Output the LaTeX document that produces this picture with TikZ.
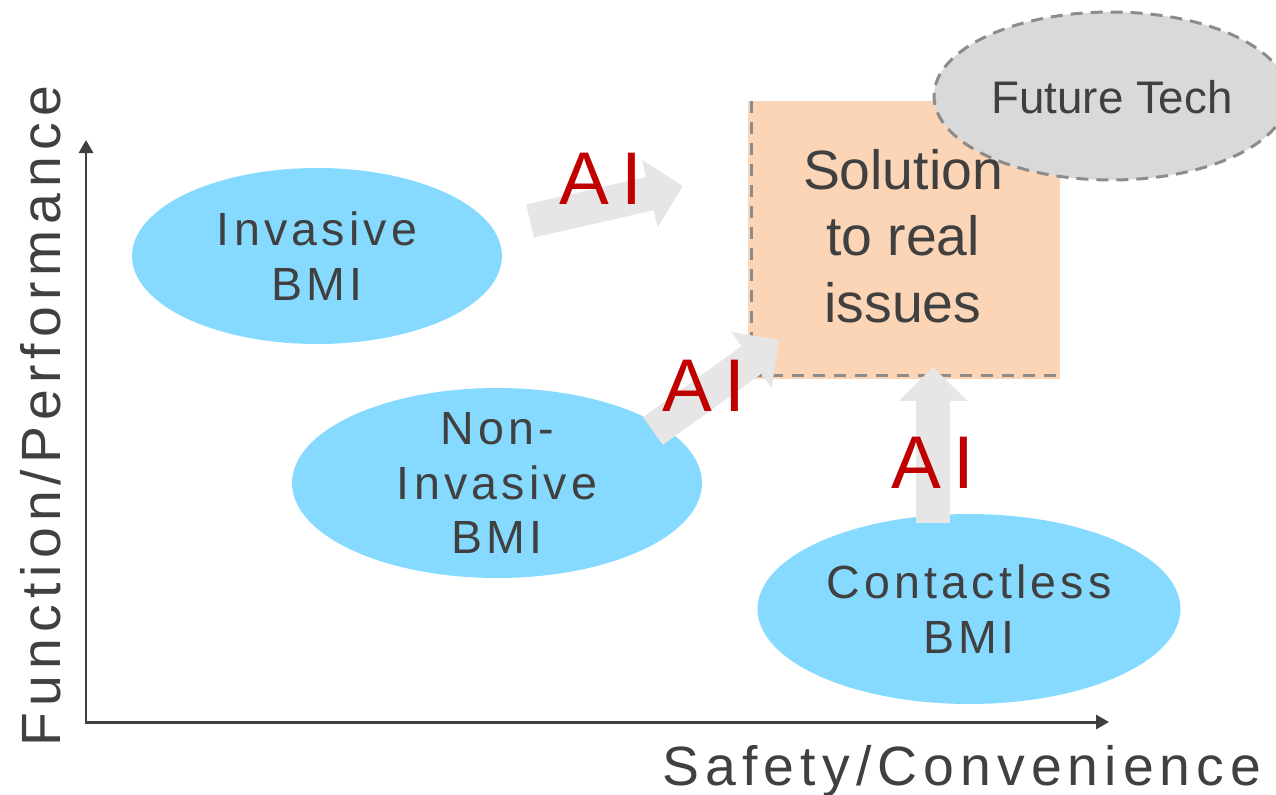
\documentclass[tikz,border=0pt]{standalone}
\usepackage{fontspec}
\setmainfont{Liberation Sans}
\newfontfamily\bmifont[LetterSpace=9]{Liberation Sans}
\newfontfamily\axisfont[LetterSpace=11]{Liberation Sans}
\newfontfamily\aifont[LetterSpace=16]{Liberation Sans}
\usetikzlibrary{arrows.meta, calc, positioning, shapes.geometric}

\definecolor{txtgray}{HTML}{404040}
\definecolor{bmiblue}{HTML}{87DAFF}
\definecolor{solorange}{HTML}{FBD5B5}
\definecolor{arrowgray}{HTML}{E6E6E6}
\definecolor{futgray}{HTML}{D9D9D9}
\definecolor{dashgray}{HTML}{8C8C8C}
\definecolor{aired}{HTML}{C00000}

\begin{document}
\begin{tikzpicture}[x=0.02cm, y=-0.02cm]
	\tikzset{
		bmi/.style={ellipse, fill=bmiblue, inner sep=0pt},
		bmitext/.style={align=center, text=txtgray, inner sep=0pt, font=\bmifont\fontsize{26.5}{31}\selectfont},
		axis/.style={draw=txtgray, line width=1.7pt, {Triangle[length=0.26cm, width=0.28cm]}-{Triangle[length=0.26cm, width=0.28cm]}},
		axislabel/.style={text=txtgray, inner sep=0pt, anchor=base, font=\axisfont\fontsize{31.5}{38}\selectfont},
		solbox/.style={fill=solorange, inner sep=0pt, minimum width=6.24cm, minimum height=5.56cm},
		soldash/.style={draw=dashgray, line width=1.7pt, dash pattern=on 0.24cm off 0.18cm},
		futell/.style={ellipse, fill=futgray, draw=dashgray, line width=1.7pt, dash pattern=on 0.24cm off 0.16cm, inner sep=0pt, minimum width=7.08cm, minimum height=3.36cm},
		bigtext/.style={align=center, text=txtgray, inner sep=0pt},
		aiarrow/.style={draw=arrowgray, line width=0.68cm, -{Triangle[length=0.68cm, width=1.34cm]}},
		ailabel/.style={text=aired, inner sep=0pt, font=\aifont\fontsize{42.5}{50}\selectfont}
	}

	\useasboundingbox[fill=white] (0,0) rectangle (1276,795);

	\coordinate (o) at (86,722);
	\coordinate (ytop) at (86,140);
	\coordinate (xend) at (1109,722);
	\draw[axis] (ytop) -- (o) -- (xend);
	\node[axislabel, rotate=90] (ylab) at (60,416) {Function/Performance};
	\node[axislabel] (xlab) at (962,785) {Safety/Convenience};

	\node[bmi, minimum width=7.4cm, minimum height=3.52cm] (inv) at (317,256) {};
	\node[bmi, minimum width=8.2cm, minimum height=3.8cm] (noninv) at (497,483) {};
	\node[bmi, minimum width=8.46cm, minimum height=3.8cm] (contact) at (969,609) {};
	\node[bmitext] (invtxt) at (inv.center) {Invasive\\BMI};
	\node[bmitext] (noninvtxt) at (noninv.center) {Non-\\Invasive\\BMI};
	\node[bmitext] (contacttxt) at (contact.center) {Contactless\\BMI};

	\node[solbox] (sol) at (904,240) {};
	\node[futell] (fut) at (1111,96) {};
	\draw[soldash] ($(sol.north west)+(4,0)$) -- ($(sol.south west)+(4,-4)$) -- ($(sol.south east)+(0,-4)$);
	\node[bigtext, font=\fontsize{31.5}{38}\selectfont] (soltxt) at (903,236) {Solution\\to real\\issues};
	\node[bigtext, font=\fontsize{26}{31}\selectfont] (futtxt) at (1112,97) {Future Tech};

	\coordinate (a1s) at (530,221);
	\coordinate (a1e) at (683,186);
	\coordinate (a2s) at (653,431);
	\coordinate (a2e) at (779,340);
	\coordinate (a3s) at (933,523);
	\coordinate (a3e) at (933,367);
	\draw[aiarrow] (a1s) -- (a1e);
	\draw[aiarrow] (a2s) -- (a2e);
	\draw[aiarrow] (a3s) -- (a3e);

	\node[ailabel] (ai1) at (601,179) {AI};
	\node[ailabel] (ai2) at (704,386) {AI};
	\node[ailabel] (ai3) at (933,463) {AI};
\end{tikzpicture}
\end{document}
